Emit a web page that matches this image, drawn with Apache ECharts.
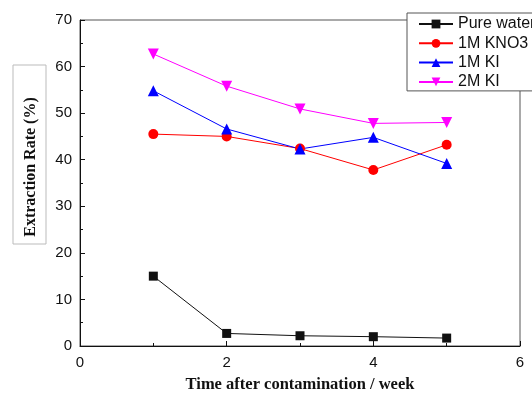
<!DOCTYPE html>
<html>
<head>
<meta charset="utf-8">
<script src="https://cdn.jsdelivr.net/npm/echarts@6/dist/echarts.min.js"></script>
<style>
  html, body { margin: 0; padding: 0; background: #fff; }
  #chart { width: 532px; height: 394px; }
</style>
</head>
<body>
<div id="chart"></div>
<script>
// Extraction rate over time for each washing solution
const weeks = [1, 2, 3, 4, 5];
const pureWater = [15.0, 2.7, 2.2, 2.0, 1.7];
const kno3_1M = [45.5, 45.0, 42.4, 37.8, 43.2];
const ki_1M = [54.8, 46.6, 42.3, 44.8, 39.2];
const ki_2M = [62.7, 55.8, 50.9, 47.8, 48.0];

const seriesNames = ['Pure water', '1M KNO3', '1M KI', '2M KI'];
const xTicks = { min: 0, max: 6, step: 2 };
const yTicks = { min: 0, max: 70, step: 10 };

const pair = (vals) => weeks.map((w, i) => [w, vals[i]]);

const sansFont = '"Liberation Sans", Arial, sans-serif';
const serifFont = '"Liberation Serif", "Times New Roman", serif';

const chart = echarts.init(document.getElementById('chart'), null, { renderer: 'canvas' });

function lineSeries(name, vals, color, symbol, size, rotate) {
  return {
    name: name,
    type: 'line',
    data: pair(vals),
    symbol: symbol,
    symbolSize: size,
    symbolRotate: rotate || 0,
    lineStyle: { color: color, width: 1 },
    itemStyle: { color: color },
    emphasis: { disabled: true },
    z: 3
  };
}

chart.setOption({
  animation: false,
  backgroundColor: '#fff',
  grid: {
    left: 80, right: 12, top: 20, bottom: 48,
    containLabel: false,
    outerBoundsMode: 'none',
    show: true, borderColor: '#555', borderWidth: 1, backgroundColor: 'transparent'
  },
  legend: {
    orient: 'vertical',
    left: 407, top: 13,
    padding: [3, 10, 1, 11],
    itemWidth: 34, itemHeight: 11, itemGap: 3.3,
    backgroundColor: '#fff',
    borderColor: '#555', borderWidth: 1,
    textStyle: { fontFamily: sansFont, fontSize: 16, color: '#111', lineHeight: 16 },
    data: seriesNames
  },
  xAxis: {
    type: 'value',
    min: xTicks.min, max: xTicks.max, interval: xTicks.step,
    axisLine: { show: true, onZero: false, lineStyle: { color: '#111', width: 1 } },
    axisTick: { show: true, inside: true, length: 5, lineStyle: { color: '#111' } },
    minorTick: { show: true, splitNumber: 2, length: 3, lineStyle: { color: '#111' } },
    splitLine: { show: false },
    axisLabel: { fontFamily: sansFont, fontSize: 15, color: '#111', margin: 9 },
    name: 'Time after contamination / week',
    nameLocation: 'middle',
    nameGap: 30,
    nameTextStyle: { fontFamily: serifFont, fontSize: 16.5, fontWeight: 'bold', color: '#111' }
  },
  yAxis: {
    type: 'value',
    min: yTicks.min, max: yTicks.max, interval: yTicks.step,
    axisLine: { show: true, onZero: false, lineStyle: { color: '#111', width: 1 } },
    axisTick: { show: true, inside: true, length: 5, lineStyle: { color: '#111' } },
    minorTick: { show: true, splitNumber: 2, length: 3, lineStyle: { color: '#111' } },
    splitLine: { show: false },
    axisLabel: { fontFamily: sansFont, fontSize: 15, color: '#111', margin: 8 }
  },
  graphic: [
    {
      type: 'rect',
      shape: { x: 13, y: 65, width: 33, height: 179 },
      style: { fill: '#fff', stroke: '#bbb', lineWidth: 1 },
      z: 1
    },
    {
      type: 'text',
      x: 31, y: 167,
      rotation: Math.PI / 2,
      style: {
        text: 'Extraction Rate (%)',
        font: 'bold 16px ' + serifFont,
        fill: '#111',
        align: 'center',
        verticalAlign: 'middle'
      },
      z: 2
    }
  ],
  series: [
    lineSeries(seriesNames[0], pureWater, '#111111', 'rect', 9),
    lineSeries(seriesNames[1], kno3_1M, '#ff0000', 'circle', 10),
    lineSeries(seriesNames[2], ki_1M, '#0000ff', 'triangle', 11),
    lineSeries(seriesNames[3], ki_2M, '#ff00ff', 'triangle', 11, 180)
  ]
});
</script>
</body>
</html>
